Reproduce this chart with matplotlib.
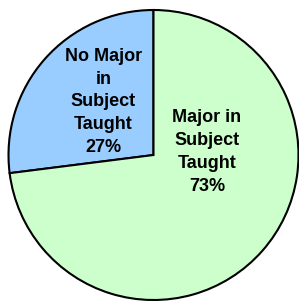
import matplotlib
matplotlib.use("Agg")
import matplotlib.pyplot as plt

labels = ["No Major\nin\nSubject\nTaught", "Major in\nSubject\nTaught"]
values = [27, 73]
colors = ["#99CCFF", "#CCFFCC"]
label_pos = [(-0.345, 0.366), (0.369, 0.02)]

W, H = 299, 301
cx, cy, r = 153.5, 155.0, 145.0
fig = plt.figure(figsize=(W / 100, H / 100), dpi=100)
pad = 1.01
ax = fig.add_axes([(cx - r * pad) / W, (H - cy - r * pad) / H, 2 * r * pad / W, 2 * r * pad / H])
wedges, _ = ax.pie(values, colors=colors, startangle=90, counterclock=True,
                   wedgeprops=dict(edgecolor="black", linewidth=1.5))
for lab, v, (x, y) in zip(labels, values, label_pos):
    ax.text(x, y, f"{lab}\n{v}%", ha="center", va="center", fontsize=13,
            fontweight="bold", family="Liberation Sans", linespacing=1.45)
ax.set_xlim(-pad, pad)
ax.set_ylim(-pad, pad)
ax.set_aspect("equal")
fig.savefig("out.png", dpi=100)
